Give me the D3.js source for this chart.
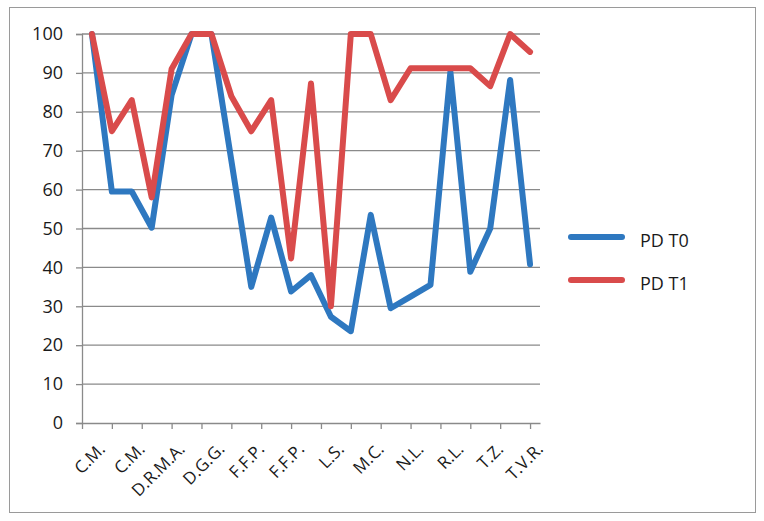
<!DOCTYPE html>
<html>
<head>
<meta charset="utf-8">
<script src="https://cdn.jsdelivr.net/npm/d3@7"></script>
<style>
  html, body { margin: 0; padding: 0; background: #fff; }
  svg { display: block; }
  text { font-family: "Open Sans", "Liberation Sans", sans-serif; fill: #1a1a1a; }
</style>
</head>
<body>
<svg id="chart" width="764" height="521"></svg>
<script>
// ---- data ----
const categories = d3.range(1, 24); // 23 patients
const tickLabels = ["C.M.", "C.M.", "D.R.M.A.", "D.G.G.", "F.F.P.", "F.F.P.", "L.S.", "M.C.", "N.L.", "R.L.", "T.Z.", "T.V.R."];
const labelEvery = 2;
const seriesNames = ["PD T0", "PD T1"];
const pdT0 = [100, 59.5, 59.5, 50.2, 84.3, 100, 100, 67.5, 35, 52.8, 33.8, 38, 27.3, 23.6, 53.5, 29.5, 32.5, 35.5, 90.3, 38.9, 50, 88.2, 40.8];
const pdT1 = [100, 75, 83, 58, 91, 100, 100, 84, 75, 83, 42.3, 87.3, 30, 100, 100, 83, 91.2, 91.2, 91.2, 91.2, 86.6, 100, 95.4];
const yTicks = [0, 10, 20, 30, 40, 50, 60, 70, 80, 90, 100];
const colors = ["#2E78C0", "#D94B4B"];

// ---- layout ----
const svg = d3.select("#chart");
const plot = { left: 82, right: 540, top: 34, bottom: 423 };

// outer chart border
svg.append("rect")
  .attr("x", 9.5).attr("y", 7.5)
  .attr("width", 746).attr("height", 505)
  .attr("fill", "#fff").attr("stroke", "#9a9a9a").attr("stroke-width", 1);

const x = d3.scaleLinear().domain([-0.5, categories.length - 0.5]).range([plot.left, plot.right]);
const y = d3.scaleLinear().domain([0, 100]).range([plot.bottom, plot.top]);

// gridlines
svg.append("g").selectAll("line").data(yTicks.filter(d => d > 0)).join("line")
  .attr("x1", plot.left).attr("x2", plot.right)
  .attr("y1", d => y(d)).attr("y2", d => y(d))
  .attr("stroke", "#8a8a8a").attr("stroke-width", 1.3);

// y axis
const yAxis = svg.append("g").attr("transform", `translate(${plot.left},0)`)
  .call(d3.axisLeft(y).tickValues(yTicks).tickSize(6).tickPadding(13).tickFormat(d3.format("d")));
yAxis.select(".domain").attr("stroke", "#8a8a8a").attr("stroke-width", 1.3);
yAxis.selectAll(".tick line").attr("stroke", "#8a8a8a").attr("stroke-width", 1.3);
yAxis.selectAll(".tick text").attr("font-size", 18).attr("fill", "#1a1a1a")
  .style("font-family", '"Open Sans", sans-serif');

// x axis line + tick marks
const xTickVals = d3.range(-0.5, categories.length - 0.5 + 0.001, 1.5);
const xAxis = svg.append("g").attr("transform", `translate(0,${plot.bottom})`)
  .call(d3.axisBottom(x).tickValues(xTickVals).tickSize(6).tickSizeOuter(0).tickFormat(""));
xAxis.select(".domain").attr("stroke", "#8a8a8a").attr("stroke-width", 1.3);
xAxis.selectAll(".tick line").attr("stroke", "#8a8a8a").attr("stroke-width", 1.3);

// x labels (every 2nd category)
svg.append("g").selectAll("text").data(tickLabels).join("text")
  .attr("transform", (d, i) => `translate(${x(i * labelEvery) + 11},${plot.bottom + 24}) rotate(-45)`)
  .attr("text-anchor", "end")
  .attr("dominant-baseline", "middle")
  .attr("font-size", 17)
  .text(d => d);

// lines (T1 drawn last, on top)
const line = d3.line().x((d, i) => x(i)).y(d => y(d));
[[pdT0, colors[0]], [pdT1, colors[1]]].forEach(([s, c]) => {
  svg.append("path").datum(s)
    .attr("d", line)
    .attr("fill", "none")
    .attr("stroke", c)
    .attr("stroke-width", 6)
    .attr("stroke-linejoin", "round")
    .attr("stroke-linecap", "round");
});

// legend
const legend = svg.append("g");
seriesNames.forEach((name, i) => {
  const ly = 237 + i * 43;
  legend.append("line")
    .attr("x1", 571).attr("x2", 622).attr("y1", ly).attr("y2", ly)
    .attr("stroke", colors[i]).attr("stroke-width", 6).attr("stroke-linecap", "round");
  legend.append("text")
    .attr("x", 640).attr("y", ly + 10)
    .attr("font-size", 18)
    .text(name);
});
</script>
</body>
</html>
